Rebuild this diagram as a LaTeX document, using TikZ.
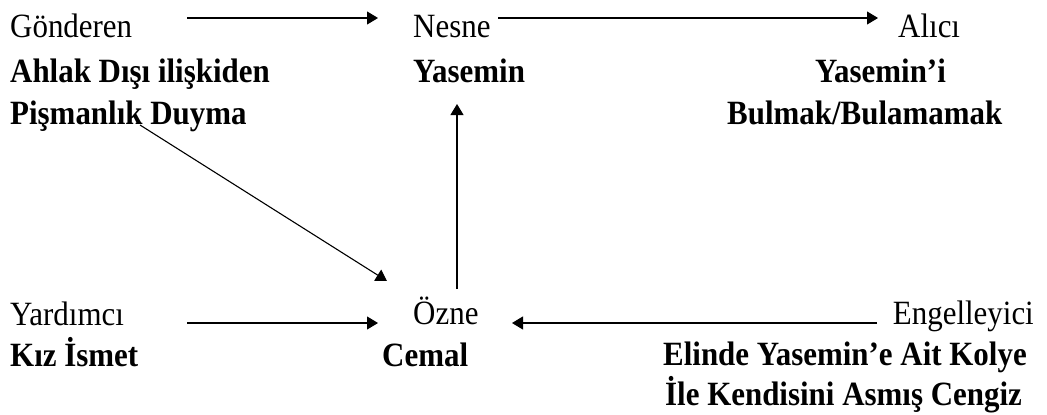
\documentclass[tikz,border=0pt]{standalone}
\usepackage{fontspec}
\setmainfont{Liberation Serif}[FakeStretch=0.91]
\usetikzlibrary{arrows.meta}
\begin{document}
\begin{tikzpicture}[x=1pt,y=-1pt,
  lbl/.style={inner sep=0pt, anchor=base west, font=\fontsize{34}{40}\selectfont},
  rlbl/.style={lbl, anchor=base east},
  bl/.style={lbl, font=\fontsize{34}{40}\selectfont\bfseries},
  link/.style={line width=1.1pt, -{Triangle[length=11pt,width=13pt]}}]
\useasboundingbox (0,0) rectangle (1047,415);

% actant labels
\node[lbl] (gonderen) at (10,37) {Gönderen};
\node[bl]  (ahlak)    at (10,82) {Ahlak Dışı ilişkiden};
\node[bl]  (pisman)   at (10,124) {Pişmanlık Duyma};
\node[lbl] (nesne)    at (413,37) {Nesne};
\node[bl]  (yasemin)  at (413,82) {Yasemin};
\node[lbl] (alici)    at (898,37) {Alıcı};
\node[bl]  (yasemini) at (815,82) {Yasemin’i};
\node[bl]  (bulmak)   at (727,124) {Bulmak/Bulamamak};
\node[lbl] (yardimci) at (10,325) {Yardımcı};
\node[bl]  (ismet)    at (10,366) {Kız İsmet};
\node[lbl] (ozne)     at (413,324) {Özne};
\node[bl]  (cemal)    at (382,366) {Cemal};
\node[rlbl] (engel)   at (1034,324) {Engelleyici};
\node[bl]  (elinde)   at (663,365) {Elinde Yasemin’e Ait Kolye};
\node[bl]  (ile)      at (665,405) {İle Kendisini Asmış Cengiz};

% arrow end points
\coordinate (a1s) at (187,18);  \coordinate (a1e) at (378,18);
\coordinate (a2s) at (498,18);  \coordinate (a2e) at (878,18);
\coordinate (dgs) at (140,125); \coordinate (dge) at (387,281);
\coordinate (vs)  at (457,289); \coordinate (ve)  at (457,104);
\coordinate (a3s) at (187,323); \coordinate (a3e) at (378,323);
\coordinate (a4s) at (877,323); \coordinate (a4e) at (512,323);

\draw[link] (a1s) -- (a1e);
\draw[link] (a2s) -- (a2e);
\draw[link] (dgs) -- (dge);
\draw[link] (vs) -- (ve);
\draw[link] (a3s) -- (a3e);
\draw[link] (a4s) -- (a4e);
\end{tikzpicture}
\end{document}
